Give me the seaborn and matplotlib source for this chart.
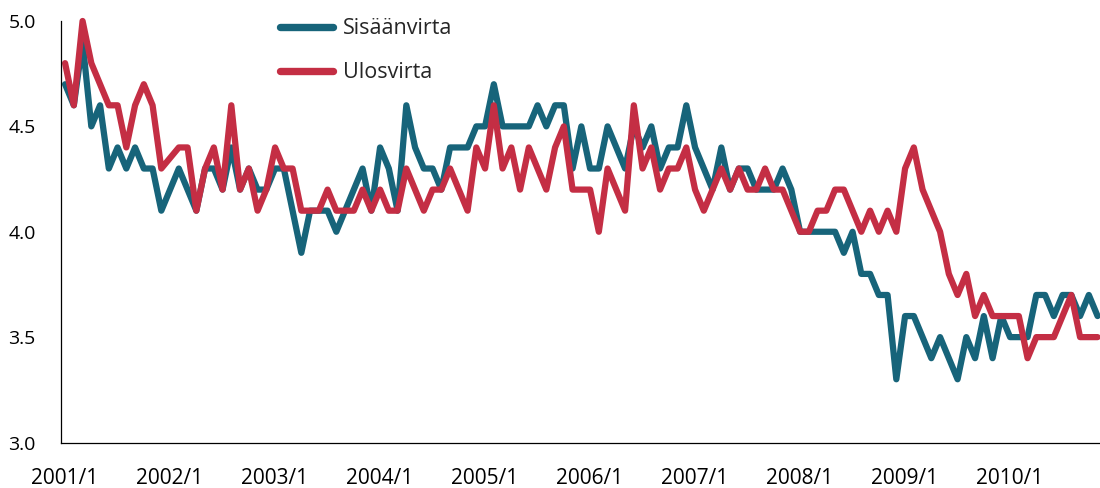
import numpy as np
import pandas as pd
import matplotlib
matplotlib.use("Agg")
import matplotlib.pyplot as plt
from matplotlib.lines import Line2D
import seaborn as sns

# ---- data (monthly, 2001/1 .. 2010/11) ----
sisaanvirta = [
    4.7, 4.6, 4.9, 4.5, 4.6, 4.3, 4.4, 4.3, 4.4, 4.3,
    4.3, 4.1, 4.2, 4.3, 4.2, 4.1, 4.3, 4.3, 4.2, 4.4,
    4.2, 4.3, 4.2, 4.2, 4.3, 4.3, 4.1, 3.9, 4.1, 4.1,
    4.1, 4.0, 4.1, 4.2, 4.3, 4.1, 4.4, 4.3, 4.1, 4.6,
    4.4, 4.3, 4.3, 4.2, 4.4, 4.4, 4.4, 4.5, 4.5, 4.7,
    4.5, 4.5, 4.5, 4.5, 4.6, 4.5, 4.6, 4.6, 4.3, 4.5,
    4.3, 4.3, 4.5, 4.4, 4.3, 4.5, 4.4, 4.5, 4.3, 4.4,
    4.4, 4.6, 4.4, 4.3, 4.2, 4.4, 4.2, 4.3, 4.3, 4.2,
    4.2, 4.2, 4.3, 4.2, 4.0, 4.0, 4.0, 4.0, 4.0, 3.9,
    4.0, 3.8, 3.8, 3.7, 3.7, 3.3, 3.6, 3.6, 3.5, 3.4,
    3.5, 3.4, 3.3, 3.5, 3.4, 3.6, 3.4, 3.6, 3.5, 3.5,
    3.5, 3.7, 3.7, 3.6, 3.7, 3.7, 3.6, 3.7, 3.6,
]
ulosvirta = [
    4.8, 4.6, 5.0, 4.8, 4.7, 4.6, 4.6, 4.4, 4.6, 4.7,
    4.6, 4.3, 4.35, 4.4, 4.4, 4.1, 4.3, 4.4, 4.2, 4.6,
    4.2, 4.3, 4.1, 4.2, 4.4, 4.3, 4.3, 4.1, 4.1, 4.1,
    4.2, 4.1, 4.1, 4.1, 4.2, 4.1, 4.2, 4.1, 4.1, 4.3,
    4.2, 4.1, 4.2, 4.2, 4.3, 4.2, 4.1, 4.4, 4.3, 4.6,
    4.3, 4.4, 4.2, 4.4, 4.3, 4.2, 4.4, 4.5, 4.2, 4.2,
    4.2, 4.0, 4.3, 4.2, 4.1, 4.6, 4.3, 4.4, 4.2, 4.3,
    4.3, 4.4, 4.2, 4.1, 4.2, 4.3, 4.2, 4.3, 4.2, 4.2,
    4.3, 4.2, 4.2, 4.1, 4.0, 4.0, 4.1, 4.1, 4.2, 4.2,
    4.1, 4.0, 4.1, 4.0, 4.1, 4.0, 4.3, 4.4, 4.2, 4.1,
    4.0, 3.8, 3.7, 3.8, 3.6, 3.7, 3.6, 3.6, 3.6, 3.6,
    3.4, 3.5, 3.5, 3.5, 3.6, 3.7, 3.5, 3.5, 3.5,
]
series_names = ["Sisäänvirta", "Ulosvirta"]
series_colors = ["#17647a", "#c42e44"]
year_labels = ["2001/1", "2002/1", "2003/1", "2004/1", "2005/1",
               "2006/1", "2007/1", "2008/1", "2009/1", "2010/1"]
y_ticks = [3.0, 3.5, 4.0, 4.5, 5.0]

# ---- long table ----
n = len(sisaanvirta)
month_index = np.arange(n) + 0.5  # centre of each month
df = pd.DataFrame({
    "month": np.concatenate([month_index, month_index]),
    "value": sisaanvirta + ulosvirta,
    "series": [series_names[0]] * n + [series_names[1]] * n,
})

sns.set_theme(style="white")
plt.rcParams["font.family"] = ["Open Sans", "DejaVu Sans"]

W, H, DPI = 1100, 488, 100
fig = plt.figure(figsize=(W / DPI, H / DPI), dpi=DPI)
ax_left, ax_right = 60.7, 60.7 + 120 * 8.75
ax_top, ax_bottom = 21.0, 442.5
ax = fig.add_axes([ax_left / W, 1 - ax_bottom / H,
                   (ax_right - ax_left) / W, (ax_bottom - ax_top) / H])

sns.lineplot(data=df, x="month", y="value", hue="series",
             palette=dict(zip(series_names, series_colors)),
             linewidth=4.5, ax=ax, legend=False, sort=False,
             solid_joinstyle="round", solid_capstyle="round")
for ln in ax.get_lines():
    ln.set_clip_on(False)

ax.set_xlim(0, 120)
ax.set_ylim(3.0, 5.0)
year_starts = np.arange(0, 120, 12)
# tick marks at year starts, labels centred slightly right of them
ax.set_xticks(year_starts)
ax.set_xticklabels([])
ax.set_xticks(year_starts + 0.4, minor=True)
ax.set_xticklabels(year_labels, minor=True)
ax.set_yticks(y_ticks)
ax.set_yticklabels([f"{v:.1f}" for v in y_ticks])
ax.set_xlabel("")
ax.set_ylabel("")

for side in ["top", "right"]:
    ax.spines[side].set_visible(False)
for side in ["left", "bottom"]:
    ax.spines[side].set_color("black")
    ax.spines[side].set_linewidth(0.9)

ax.tick_params(axis="both", which="major", direction="in", length=5.5,
               width=0.8, color="#8a8a8a", labelsize=14, labelcolor="black")
ax.tick_params(axis="y", pad=18)
ax.tick_params(axis="x", which="minor", length=0, labelsize=15, pad=18,
               labelcolor="black")
ax.grid(False)

handles = [Line2D([0], [0], color=c, lw=5.3, solid_capstyle="round")
           for c in series_colors]
fig.legend(handles, series_names, loc="upper left",
           bbox_to_anchor=(280 / W, 1 - 18.5 / H), frameon=False,
           fontsize=15.5, handlelength=2.47, handletextpad=0.47,
           labelspacing=1.06, borderpad=0, borderaxespad=0)

fig.savefig("out.png", dpi=DPI)
